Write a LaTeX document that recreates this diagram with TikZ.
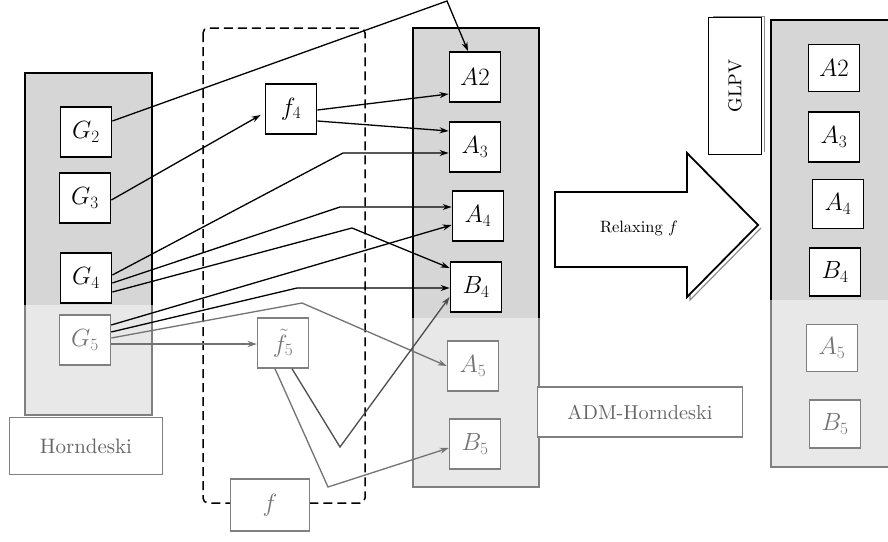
\documentclass[tikz,border=0pt]{standalone}
\usetikzlibrary{arrows.meta,calc}
\begin{document}
\begin{tikzpicture}[x=1pt,y=-1pt,
  lbl/.style={font=\fontsize{23}{27}\selectfont},
  bx/.style={draw, line width=1.8pt, fill=white, inner sep=0pt, minimum width=51pt, minimum height=50pt, lbl},
  fbx/.style={bx, draw=black!50, text=black!55, line width=1.5pt},
  tbx/.style={draw=black!50, text=black!60, line width=1.5pt, fill=white, inner sep=0pt},
  conn/.style={line width=1.3pt, -{Stealth[length=9pt,width=6pt]}},
  fconn/.style={conn, draw=black!55},
  colup/.style={fill=black!16},
  collow/.style={fill=black!9},
  colborder/.style={draw=black!50, line width=1.5pt},
  coltop/.style={draw=black, line width=1.8pt}
]
\useasboundingbox (0,0) rectangle (888,541);
\fill[white] (0,0) rectangle (888,541);

% columns
\fill[colup] (25,73) rectangle (152,305);
\fill[collow] (25,305) rectangle (152,415);
\draw[colborder] (25,73) rectangle (152,415);
\draw[coltop] (25,305) -- (25,73) -- (152,73) -- (152,305);

\fill[colup] (413,28) rectangle (539,318);
\fill[collow] (413,318) rectangle (539,487);
\draw[colborder] (413,28) rectangle (539,487);
\draw[coltop] (413,318) -- (413,28) -- (539,28) -- (539,318);

\fill[colup] (771,20) rectangle (895,300);
\fill[collow] (771,300) rectangle (895,467);
\draw[colborder] (771,20) rectangle (895,467);
\draw[coltop] (771,300) -- (771,20) -- (895,20);

% dashed region
\draw[line width=1.5pt, dash pattern=on 9pt off 5pt, rounded corners=5pt] (203,28) rectangle (365,503);

% big arrow
\draw[black!45, line width=1.2pt] (690,270) -- (690,300) -- (761,228);
\draw[fill=white, line width=1.8pt] (555,192) -- (687,192) -- (687,153) -- (758,225) -- (687,297) -- (687,267) -- (555,267) -- cycle;
\node (relax) at (639,228) {\resizebox{78pt}{!}{Relaxing $f$}};

% left nodes
\node[bx] (G2) at (86,132) {$G_2$};
\node[bx] (G3) at (85,198) {$G_3$};
\node[bx] (G4) at (86,278) {$G_4$};
\node[fbx] (G5) at (85,340) {$G_5$};
\node[tbx, minimum width=153pt, minimum height=57pt] (horn) at (86,446) {\resizebox{92pt}{!}{Horndeski}};

% middle nodes
\node[bx] (f4) at (291,109) {$f_4$};
\node[fbx] (f5t) at (283,343) {$\tilde{f}_5$};
\node[fbx, minimum width=79pt, minimum height=52pt] (f) at (270,505) {$f$};

\node[bx] (A2m) at (475,77) {$A2$};
\node[bx] (A3m) at (475,147) {$A_3$};
\node[bx] (A4m) at (478,216) {$A_4$};
\node[bx] (B4m) at (476,287) {$B_4$};
\node[fbx] (A5m) at (473,366) {$A_5$};
\node[fbx] (B5m) at (475,444) {$B_5$};
\node[tbx, minimum width=205pt, minimum height=50pt] (adm) at (640,412) {\resizebox{145pt}{!}{ADM-Horndeski}};

% right nodes
\draw[black!45, line width=1pt] (713,16) -- (764,16) -- (764,152);
\node[draw, line width=1.8pt, fill=white, inner sep=0pt, rotate=90, minimum width=137pt, minimum height=53pt] (glpv) at (735,86) {\resizebox{53pt}{!}{GLPV}};
\node[bx, minimum height=47pt] (A2r) at (834,68) {$A2$};
\node[bx] (A3r) at (834,137) {$A_3$};
\node[bx, minimum height=49pt] (A4r) at (838,204) {$A_4$};
\node[bx, minimum height=48pt] (B4r) at (835,272) {$B_4$};
\node[fbx, minimum height=47pt] (A5r) at (832,348) {$A_5$};
\node[fbx, minimum height=48pt] (B5r) at (835,424) {$B_5$};

% knee points
\coordinate (k1) at (447,1);
\coordinate (k5) at (343,153);
\coordinate (k6) at (340,207);
\coordinate (k7) at (352,228);
\coordinate (k9) at (297,288);
\coordinate (k10) at (302,303);
\coordinate (k12) at (328,487);
\coordinate (k13) at (340,447);

% connectors
\draw[conn] ([yshift=11pt]G2.east) -- (k1) -- ([xshift=-7pt]A2m.north);
\draw[conn] ([yshift=-2pt]G3.east) -- ([xshift=-4pt,yshift=-6pt]f4.west);
\draw[conn] ([yshift=-1pt]f4.east) -- ([yshift=-17pt]A2m.west);
\draw[conn] ([yshift=-12pt]f4.east) -- ([yshift=16pt]A3m.west);
\draw[conn] ([yshift=3pt]G4.east) -- (k5) -- ([yshift=-6pt]A3m.west);
\draw[conn] ([yshift=-5pt]G4.east) -- (k6) -- ([yshift=9pt]A4m.west);
\draw[conn] ([yshift=-14pt]G4.east) -- (k7) -- ([yshift=19pt]B4m.west);
\draw[conn] ([yshift=15pt]G5.east) -- ([yshift=-9pt]A4m.west);
\draw[conn] ([yshift=8pt]G5.east) -- (k9) -- ([yshift=-1pt]B4m.west);
\draw[fconn] ([yshift=2pt]G5.east) -- (k10) -- (A5m.west);
\draw[fconn] ([yshift=-4pt]G5.east) -- ([yshift=-1pt]f5t.west);
\draw[fconn] ([xshift=-8pt]f5t.south) -- (k12) -- ([yshift=-4pt]B5m.west);
\draw[conn, draw=black!70] ([xshift=9pt]f5t.south) -- (k13) -- ([yshift=-10pt]B4m.west);
\end{tikzpicture}
\end{document}
